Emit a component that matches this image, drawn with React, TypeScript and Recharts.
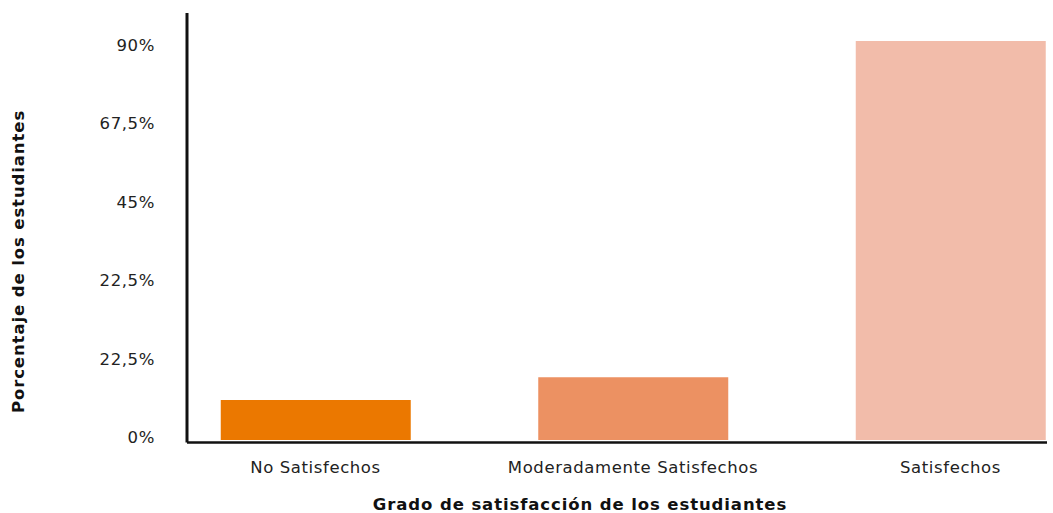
import React from 'react';
import { BarChart, Bar, XAxis, YAxis, Cell, Label } from 'recharts';

const categories = ['No Satisfechos', 'Moderadamente Satisfechos', 'Satisfechos'];
const values = [9.2, 14.4, 91.5];
const barColors = ['#EB7800', '#EC9162', '#F2BCAA'];
const yTickValues = [0, 18, 36, 54, 72, 90];
const yTickLabels = ['0%', '22,5%', '22,5%', '45%', '67,5%', '90%'];
const xTitle = 'Grado de satisfacción de los estudiantes';
const yTitle = 'Porcentaje de los estudiantes';

const data = categories.map((c, i) => ({ name: c, value: values[i] }));

const FONT = '"DejaVu Sans", sans-serif';

const YTick = (props: any) => {
  const { x, y, payload } = props;
  const idx = yTickValues.indexOf(payload.value);
  return (
    <text x={x} y={y - 2.5} dy="0.355em" textAnchor="end" fontFamily={FONT} fontSize={16.5} letterSpacing={0.6} fill="#222">
      {yTickLabels[idx]}
    </text>
  );
};

const XTick = (props: any) => {
  const { x, y, payload } = props;
  return (
    <text x={x} y={y} dy="0.71em" textAnchor="middle" fontFamily={FONT} fontSize={16.5} letterSpacing={0.6} fill="#222">
      {payload.value}
    </text>
  );
};

const XTitle = (props: any) => {
  const { viewBox } = props;
  return (
    <text x={viewBox.x + viewBox.width / 2 - 37} y={510} textAnchor="middle" fontFamily={FONT} fontSize={16.5} fontWeight={700} letterSpacing={0.9} fill="#111">
      {xTitle}
    </text>
  );
};

const YTitle = () => {
  return (
    <text x={24} y={261.5} transform="rotate(-90 24 261.5)" textAnchor="middle" fontFamily={FONT} fontSize={16.5} fontWeight={700} letterSpacing={0.9} fill="#111">
      {yTitle}
    </text>
  );
};

export default function App() {
  return (
    <div style={{ width: 1053, height: 513 }}>
      <style>{'body{margin:0;}'}</style>
      <BarChart width={1053} height={513} data={data} margin={{ top: 13, right: 6, bottom: 0, left: 0 }}>
        <XAxis
          dataKey="name"
          height={70.5}
          padding={{ left: -30.25, right: -62.25 }}
          tickLine={false}
          tickSize={0}
          tickMargin={18.5}
          axisLine={{ stroke: '#111', strokeWidth: 2.5 }}
          tick={<XTick />}
          interval={0}
        >
          <Label content={<XTitle />} />
        </XAxis>
        <YAxis
          width={187}
          domain={[-0.57, 97.9]}
          ticks={yTickValues}
          tickLine={false}
          tickSize={0}
          tickMargin={32}
          axisLine={{ stroke: '#111', strokeWidth: 3 }}
          tick={<YTick />}
          allowDataOverflow
        >
          <Label content={<YTitle />} />
        </YAxis>
        <Bar dataKey="value" barSize={190} isAnimationActive={false}>
          {data.map((d, i) => (
            <Cell key={d.name} fill={barColors[i]} />
          ))}
        </Bar>
      </BarChart>
    </div>
  );
}
